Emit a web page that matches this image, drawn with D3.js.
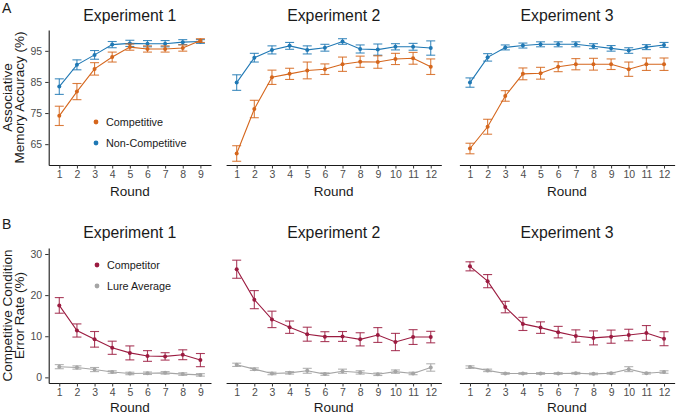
<!DOCTYPE html>
<html><head><meta charset="utf-8">
<script src="https://cdn.jsdelivr.net/npm/d3@7"></script>
<style>body{margin:0;background:#fff}svg{display:block;font-family:"Liberation Sans",Arial,sans-serif}</style>
</head><body><svg id="c" width="676" height="415"></svg>
<script>
const experiments = ["Experiment 1","Experiment 2","Experiment 3"];
const rounds = [9,12,12];
// Panel A: mean and error (±)
const compMean = [
 [74.1,81.9,89.2,93.0,96.2,95.6,95.6,95.9,98.3],
 [62.0,76.3,86.5,87.6,88.7,89.1,90.7,91.5,91.4,92.4,92.6,89.9],
 [63.6,70.6,80.5,87.6,87.8,89.9,90.7,90.7,90.7,89.1,90.7,90.7]];
const compErr = [
 [3.1,2.6,2.0,1.6,1.0,1.0,1.0,1.0,0.6],
 [2.5,2.8,2.3,1.8,2.7,1.7,2.3,1.8,2.0,1.8,1.9,2.5],
 [1.7,2.4,1.7,1.9,1.9,1.6,1.8,1.9,1.7,2.3,2.0,2.0]];
const nonMean = [
 [83.5,90.5,93.7,97.0,97.4,97.3,97.3,97.8,98.0],
 [84.8,92.8,95.3,96.6,95.3,96.0,98.0,95.6,95.4,96.3,96.3,95.9],
 [84.8,92.9,96.1,96.7,97.1,97.1,97.1,96.5,95.8,95.1,96.2,96.9]];
const nonErr = [
 [2.5,1.6,1.4,1.0,1.0,1.0,1.0,0.8,0.6],
 [2.5,1.4,1.3,1.1,1.3,1.1,0.9,1.3,1.8,1.0,1.1,2.3],
 [1.5,1.2,0.8,0.8,0.8,0.8,0.8,0.8,0.9,0.9,0.8,0.8]];
// Panel B
const competitorMean = [
 [17.5,11.4,9.25,7.2,5.95,5.2,5.1,5.5,4.2],
 [26.3,18.9,14.1,12.2,10.5,9.9,9.95,9.25,10.3,8.6,9.8,9.8],
 [27.0,23.4,17.1,13.0,12.1,11.0,10.05,9.6,9.9,10.3,10.8,9.4]];
const competitorErr = [
 [1.9,1.6,1.9,1.6,1.7,1.3,0.9,1.2,1.6],
 [2.2,2.2,2.0,1.5,1.7,1.2,1.2,1.6,1.8,2.1,1.8,1.4],
 [1.1,1.6,1.4,1.6,1.4,1.4,1.5,1.7,1.6,1.4,1.8,1.7]];
const lureMean = [
 [2.6,2.4,1.9,1.3,0.95,1.0,1.1,0.8,0.6],
 [3.05,2.0,0.95,1.1,1.6,0.8,1.5,1.2,0.75,1.4,0.95,2.4],
 [2.5,1.7,0.95,0.95,0.95,0.95,1.0,0.85,1.0,2.0,1.0,1.3]];
const lureErr = [
 [0.5,0.4,0.5,0.3,0.3,0.3,0.3,0.3,0.3],
 [0.4,0.3,0.3,0.3,0.6,0.3,0.5,0.4,0.3,0.4,0.3,0.9],
 [0.3,0.3,0.2,0.2,0.2,0.2,0.2,0.2,0.2,0.6,0.2,0.3]];
const ticksA = [65,75,85,95];
const ticksB = [0,10,20,30];

const C = {comp:"#d5661c", non:"#1f78b4", competitor:"#9b1b40", lure:"#a5a5a5"};
const svg = d3.select("#c");
const step = 17.64;
const panelX0 = [48.7, 226.1, 459.4];
const FF = '"Liberation Sans",Arial,sans-serif';

function row(cfg){
  const y = d3.scaleLinear().domain(cfg.domain).range([cfg.bottom, cfg.top]);
  experiments.forEach((name,i)=>{
    const n = rounds[i];
    const x0 = panelX0[i];
    const x = d3.scaleLinear().domain([0.4, n+0.6]).range([x0, x0 + step*(n+0.2)]);
    const g = svg.append("g");
    g.append("text").attr("x",(x.range()[0]+x.range()[1])/2).attr("y",cfg.titleY)
      .attr("text-anchor","middle").attr("font-size",15.8).attr("fill","#1a1a1a").text(name);
    const xa = g.append("g").attr("transform",`translate(0,${cfg.bottom})`)
      .call(d3.axisBottom(x).tickValues(d3.range(1,n+1)).tickSize(3.5).tickPadding(2.5).tickSizeOuter(0));
    xa.select(".domain").attr("stroke","#1a1a1a").attr("stroke-width",1.1);
    xa.selectAll(".tick line").attr("stroke","#333");
    xa.selectAll(".tick text").attr("fill","#4d4d4d").attr("font-size",10.5).attr("font-family",FF);
    g.append("text").attr("x",(x.range()[0]+x.range()[1])/2).attr("y",cfg.bottom+cfg.roundDY)
      .attr("text-anchor","middle").attr("font-size",13.5).attr("fill","#1a1a1a").text("Round");
    if(i===0){
      const ya = g.append("g").attr("transform",`translate(${x0},0)`)
        .call(d3.axisLeft(y).tickValues(cfg.ticks).tickSize(3.5).tickPadding(3).tickSizeOuter(0));
      ya.select(".domain").attr("stroke","#1a1a1a").attr("stroke-width",1.1);
      ya.selectAll(".tick line").attr("stroke","#333");
      ya.selectAll(".tick text").attr("fill","#4d4d4d").attr("font-size",10.5).attr("font-family",FF);
      const cy = (cfg.top+cfg.bottom)/2;
      const t = g.append("text").attr("transform",`translate(12.3,${cy}) rotate(-90)`)
        .attr("text-anchor","middle").attr("font-size",13.5).attr("fill","#1a1a1a");
      t.append("tspan").attr("x",0).attr("dy",0).text(cfg.ylab[0]);
      t.append("tspan").attr("x",0).attr("dy","0.9em").text(cfg.ylab[1]);
      cfg.series.forEach((s,k)=>{
        g.append("circle").attr("cx",cfg.legX).attr("cy",cfg.legY+k*21).attr("r",2.4).attr("fill",s.color);
        g.append("text").attr("x",cfg.legX+10).attr("y",cfg.legY+k*21).attr("dy","0.35em")
          .attr("font-size",10.8).attr("fill","#1a1a1a").text(s.label);
      });
    }
    cfg.series.slice().reverse().forEach(s=>{
      const m = s.mean[i], e = s.err[i];
      const data = m.map((v,j)=>({r:j+1,v,e:e[j]}));
      g.append("path").datum(data).attr("fill","none").attr("stroke",s.color).attr("stroke-width",1.1)
        .attr("d",d3.line().x(d=>x(d.r)).y(d=>y(d.v)));
      const eb = g.append("g").attr("stroke",s.color).attr("stroke-width",1.1).attr("stroke-opacity",0.85);
      data.forEach(d=>{
        const xx=x(d.r), y1=y(d.v+d.e), y2=y(d.v-d.e);
        eb.append("line").attr("x1",xx).attr("x2",xx).attr("y1",y1).attr("y2",y2);
        eb.append("line").attr("x1",xx-4.5).attr("x2",xx+4.5).attr("y1",y1).attr("y2",y1);
        eb.append("line").attr("x1",xx-4.5).attr("x2",xx+4.5).attr("y1",y2).attr("y2",y2);
      });
      g.selectAll(null).data(data).enter().append("circle")
        .attr("cx",d=>x(d.r)).attr("cy",d=>y(d.v)).attr("r",2).attr("fill",s.color);
    });
  });
  svg.append("text").attr("x",2).attr("y",cfg.labY).attr("font-size",14).attr("fill","#1a1a1a").text(cfg.label);
}

row({domain:[58.3,101.7], top:30, bottom:165, ticks:ticksA, titleY:21, label:"A", labY:13, roundDY:31,
  ylab:["Associative","Memory Accuracy (%)"], legX:96, legY:122,
  series:[{label:"Competitive",color:C.comp,mean:compMean,err:compErr},
          {label:"Non-Competitive",color:C.non,mean:nonMean,err:nonErr}]});
row({domain:[-1.37,31.46], top:248, bottom:383, ticks:ticksB, titleY:238, label:"B", labY:229, roundDY:29,
  ylab:["Competitive Condition","Error Rate (%)"], legX:97, legY:265,
  series:[{label:"Competitor",color:C.competitor,mean:competitorMean,err:competitorErr},
          {label:"Lure Average",color:C.lure,mean:lureMean,err:lureErr}]});
</script></body></html>
